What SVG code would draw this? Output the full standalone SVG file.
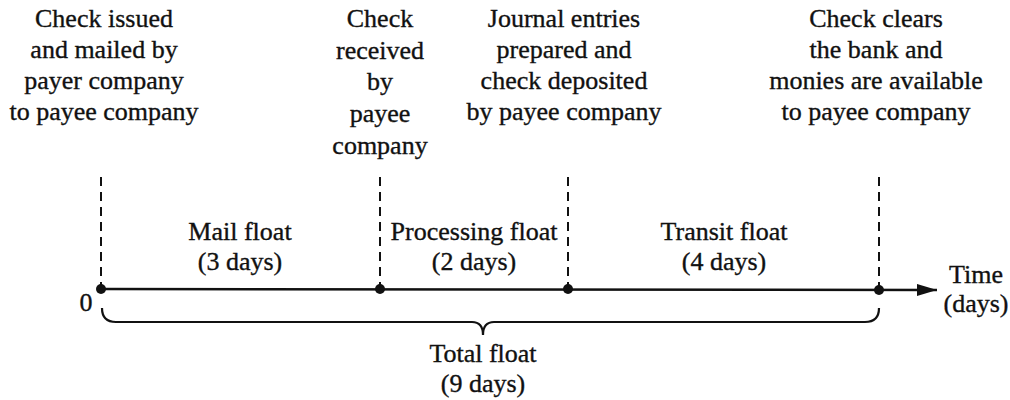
<svg xmlns="http://www.w3.org/2000/svg" width="1010" height="400" viewBox="0 0 1010 400">
  <defs>
    <style>
      text { font-family: "Liberation Serif", "Times New Roman", serif; font-size: 26px; fill: #111; stroke: #111; stroke-width: 0.35; text-anchor: middle; }
      .dash { stroke: #111; stroke-width: 2; stroke-dasharray: 9 6; fill: none; }
      .axis { stroke: #111; stroke-width: 2.6; fill: none; }
      .brace { stroke: #111; stroke-width: 2.2; fill: none; }
      .dot { fill: #111; }
    </style>
    <marker id="arrow" viewBox="0 0 20 12" refX="20" refY="6" markerWidth="20" markerHeight="12" markerUnits="userSpaceOnUse" orient="auto">
      <path d="M0,0 L20,6 L0,12 Z" fill="#111"/>
    </marker>
  </defs>
  <rect width="1010" height="400" fill="#fff"/>

  <!-- event labels -->
  <g id="event-issued">
    <text x="104" y="27">Check issued</text>
    <text x="104" y="58">and mailed by</text>
    <text x="104" y="89">payer company</text>
    <text x="104" y="120">to payee company</text>
  </g>
  <g id="event-received">
    <text x="380" y="27">Check</text>
    <text x="380" y="59">received</text>
    <text x="380" y="90">by</text>
    <text x="380" y="122">payee</text>
    <text x="380" y="154">company</text>
  </g>
  <g id="event-deposited">
    <text x="564" y="27">Journal entries</text>
    <text x="564" y="58">prepared and</text>
    <text x="564" y="89">check deposited</text>
    <text x="564" y="120">by payee company</text>
  </g>
  <g id="event-cleared">
    <text x="876" y="27">Check clears</text>
    <text x="876" y="58">the bank and</text>
    <text x="876" y="89">monies are available</text>
    <text x="876" y="120">to payee company</text>
  </g>

  <!-- float interval labels -->
  <g id="mail-float">
    <text x="240" y="240">Mail float</text>
    <text x="240" y="270">(3 days)</text>
  </g>
  <g id="processing-float">
    <text x="474" y="240">Processing float</text>
    <text x="474" y="270">(2 days)</text>
  </g>
  <g id="transit-float">
    <text x="724" y="240">Transit float</text>
    <text x="724" y="270">(4 days)</text>
  </g>
  <g id="total-float">
    <text x="483" y="362">Total float</text>
    <text x="483" y="392">(9 days)</text>
  </g>

  <!-- axis labels -->
  <g id="axis-labels">
    <text x="86" y="311">0</text>
    <text x="976" y="283">Time</text>
    <text x="976" y="312">(days)</text>
  </g>

  <!-- connectors: dashed markers, time axis, brace -->
  <g id="connectors">
    <line class="dash" x1="101" y1="177" x2="101" y2="289"/>
    <line class="dash" x1="380" y1="177" x2="380" y2="289"/>
    <line class="dash" x1="568" y1="177" x2="568" y2="289"/>
    <line class="dash" x1="879" y1="177" x2="879" y2="290"/>
    <line class="axis" x1="101" y1="289" x2="937" y2="290" marker-end="url(#arrow)"/>
    <circle class="dot" cx="101" cy="289" r="5"/>
    <circle class="dot" cx="380" cy="289" r="5"/>
    <circle class="dot" cx="568" cy="289" r="5"/>
    <circle class="dot" cx="879" cy="290" r="5"/>
    <path class="brace" d="M102,308 Q102,322 116,322 L472,322 Q483,322 483,335 Q483,322 494,322 L865,322 Q879,322 879,308"/>
  </g>
</svg>
